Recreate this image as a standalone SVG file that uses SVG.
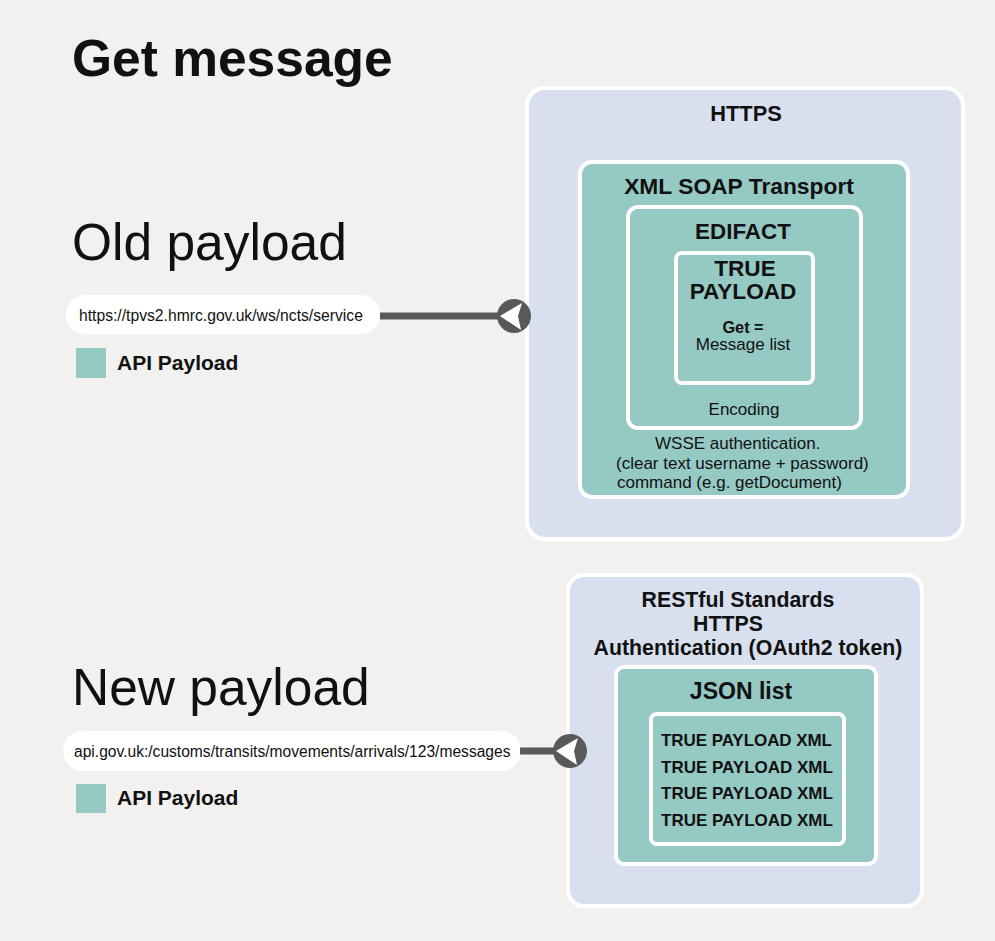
<svg xmlns="http://www.w3.org/2000/svg" width="995" height="941" viewBox="0 0 995 941">
<defs>
<style>
text{font-family:"Liberation Sans",Arial,sans-serif;fill:#111}
.b{font-weight:bold}
.blue{fill:#d8e0ef;stroke:#fff;stroke-width:4}
.teal{fill:#95c9c4;stroke:#fff;stroke-width:4}
.pill{fill:#fff}
.conn{stroke:#595959;stroke-width:7;fill:none}
.head{fill:#595959}
.tri{fill:#fff}
.big{font-size:51.5px}
</style>
<g id="arrowhead">
<circle class="head" cx="0" cy="0" r="17"/>
<path class="tri" d="M-14,0 L8,-13 L4,0 L7,14 Z"/>
</g>
</defs>
<rect width="995" height="941" fill="#f2f1ef"/>
<text class="b" x="72" y="76" font-size="51.5">Get message</text>

<g id="old-label"><text class="big" x="72" y="260">Old payload</text></g>
<g id="old-url">
<rect class="pill" x="66" y="295" width="314" height="39" rx="19"/>
<text x="79" y="321" font-size="15.7">https://tpvs2.hmrc.gov.uk/ws/ncts/service</text>
</g>
<g id="legend-old">
<rect x="76" y="348" width="30" height="30" fill="#95c9c4"/>
<text class="b" x="117" y="370" font-size="21">API Payload</text>
</g>

<g id="https-old">
<rect class="blue" x="527" y="88" width="436" height="451" rx="18"/>
<text class="b" x="746" y="121" font-size="21.8" text-anchor="middle">HTTPS</text>
</g>
<g id="soap">
<rect class="teal" x="580" y="162" width="328" height="335" rx="12"/>
<text class="b" x="739" y="194" font-size="22.8" text-anchor="middle">XML SOAP Transport</text>
<text x="655" y="449" font-size="17">WSSE authentication.</text>
<text x="616" y="469" font-size="17">(clear text username + password)</text>
<text x="617" y="488" font-size="17">command (e.g. getDocument)</text>
</g>
<g id="edifact">
<rect class="teal" x="628" y="207" width="233" height="221" rx="10"/>
<text class="b" x="743" y="239" font-size="22.4" text-anchor="middle">EDIFACT</text>
<text x="744" y="415" font-size="17" text-anchor="middle">Encoding</text>
</g>
<g id="true-payload-old">
<rect class="teal" x="676" y="253" width="137" height="130" rx="6"/>
<text class="b" x="745" y="276" font-size="22.6" text-anchor="middle">TRUE</text>
<text class="b" x="743" y="299" font-size="22.6" text-anchor="middle">PAYLOAD</text>
<text class="b" x="743" y="333" font-size="16.3" text-anchor="middle">Get =</text>
<text x="743" y="350" font-size="17" text-anchor="middle">Message list</text>
</g>

<g id="new-label"><text class="big" x="72" y="705">New payload</text></g>
<g id="new-url">
<rect class="pill" x="63" y="731" width="458" height="40" rx="20"/>
<text x="74" y="757" font-size="15.6">api.gov.uk:/customs/transits/movements/arrivals/123/messages</text>
</g>
<g id="legend-new">
<rect x="76" y="784" width="30" height="29" fill="#95c9c4"/>
<text class="b" x="117" y="805" font-size="21">API Payload</text>
</g>

<g id="rest">
<rect class="blue" x="568" y="575" width="354" height="331" rx="16"/>
<text class="b" x="738" y="607" font-size="21.3" text-anchor="middle">RESTful Standards</text>
<text class="b" x="728" y="631" font-size="21.3" text-anchor="middle">HTTPS</text>
<text class="b" x="748" y="655" font-size="21.3" text-anchor="middle">Authentication (OAuth2 token)</text>
</g>
<g id="json">
<rect class="teal" x="616" y="667" width="260" height="197" rx="8"/>
<text class="b" x="741" y="699" font-size="23" text-anchor="middle">JSON list</text>
</g>
<g id="true-payload-new">
<rect class="teal" x="651" y="714" width="193" height="130" rx="6"/>
<text class="b" x="661" y="746" font-size="17" textLength="171">TRUE PAYLOAD XML</text>
<text class="b" x="661" y="773" font-size="17">TRUE PAYLOAD XML</text>
<text class="b" x="661" y="799" font-size="17">TRUE PAYLOAD XML</text>
<text class="b" x="661" y="826" font-size="17">TRUE PAYLOAD XML</text>
</g>

<g id="connectors">
<line class="conn" x1="380" y1="316" x2="505" y2="316"/>
<use href="#arrowhead" x="514" y="316"/>
<line class="conn" x1="520" y1="751" x2="562" y2="751"/>
<use href="#arrowhead" x="570" y="751"/>
</g>
</svg>
